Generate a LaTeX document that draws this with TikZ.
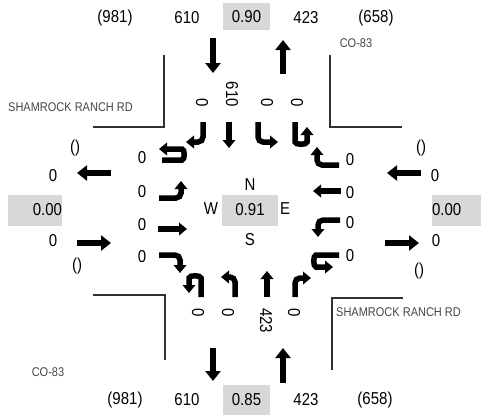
\documentclass[tikz,border=0pt]{standalone}
\usepackage{fontspec}
\usepackage{graphicx}
\setmainfont{Liberation Sans}
\usetikzlibrary{arrows.meta}
\definecolor{boxgray}{RGB}{216,216,216}
\definecolor{roadgray}{RGB}{50,50,50}
\definecolor{labgray}{RGB}{70,70,70}
\newcommand\T[1]{\scalebox{1}[1.15]{#1}}
\begin{document}
\begin{tikzpicture}[x=1pt,y=-1pt,
  txt/.style={font=\fontsize{15}{18}\selectfont, inner sep=0pt},
  small/.style={font=\fontsize{11}{13}\selectfont, text=labgray, inner sep=0pt},
  gbox/.style={fill=boxgray, inner sep=0pt, font=\fontsize{15}{18}\selectfont},
  road/.style={line width=2pt, draw=roadgray},
  bigarrow/.style={line width=6.5pt, -{Triangle[width=15pt,length=10pt]}},
  turn/.style={line width=5.5pt, -{Triangle[width=12.5pt,length=8pt]}, rounded corners=5pt}]
\useasboundingbox (0,0) rectangle (482,416);
% top row
\node[txt] (t1) at (115,18) {\T{(981)}};
\node[txt] (t2) at (187,18) {\T{610}};
\node[gbox, minimum width=47pt, minimum height=27pt] (t3) at (246.5,16.5) {\T{0.90}};
\node[txt] (t4) at (306,18) {\T{423}};
\node[txt] (t5) at (376,18) {\T{(658)}};
% bottom row
\node[txt] (b1) at (125,400) {\T{(981)}};
\node[txt] (b2) at (187,400) {\T{610}};
\node[gbox, minimum width=47pt, minimum height=30pt] (b3) at (246.5,400) {\T{0.85}};
\node[txt] (b4) at (306,400) {\T{423}};
\node[txt] (b5) at (375,400) {\T{(658)}};
% street labels
\node[small] (co1) at (356,43) {\T{CO-83}};
\node[small] (co2) at (48,372) {\T{CO-83}};
\node[small, anchor=west] (sr1) at (8,107) {\T{SHAMROCK RANCH RD}};
\node[small, anchor=west] (sr2) at (336,312) {\T{SHAMROCK RANCH RD}};
% road corners
\draw[road] (164,55) -- (164,127) -- (93,127);
\draw[road] (330,55) -- (330,127) -- (402,127);
\draw[road] (93,295) -- (165,295) -- (165,360);
\draw[road] (403,298) -- (332,298) -- (332,370);
% big arrows
\draw[bigarrow] (213,38) -- (213,73);
\draw[bigarrow] (283,74) -- (283,40);
\draw[bigarrow] (213,348) -- (213,381);
\draw[bigarrow] (283,383) -- (283,348);
\draw[bigarrow] (111,173) -- (77,173);
\draw[bigarrow] (77,243) -- (111,243);
\draw[bigarrow] (421,173) -- (387,173);
\draw[bigarrow] (385,243) -- (419,243);
% west side labels
\node[txt] (wp1) at (75,148) {\T{()}};
\node[txt] (wo1) at (53,176) {\T{0}};
\node[gbox, minimum height=31pt, text width=54pt, align=right] (wb) at (35,210) {\T{0.00}};
\node[txt] (wo2) at (53,241) {\T{0}};
\node[txt] (wp2) at (77,266) {\T{()}};
% east side labels
\node[txt] (ep1) at (421,148) {\T{()}};
\node[txt] (eo1) at (435,176) {\T{0}};
\node[gbox, minimum height=31pt, text width=49pt, align=left] (eb) at (456.5,210) {\T{0.00}};
\node[txt] (eo2) at (436,241) {\T{0}};
\node[txt] (ep2) at (419,271) {\T{()}};
% centre
\node[txt] (cn) at (250,185) {\T{N}};
\node[txt] (cw) at (211,209) {\T{W}};
\node[gbox, minimum width=56pt, minimum height=31pt] (cc) at (250,210) {\T{0.91}};
\node[txt] (ce) at (285,209) {\T{E}};
\node[txt] (cs) at (250,240) {\T{S}};
% west approach
\node[txt] (w1) at (142,158) {\T{0}};
\node[txt] (w2) at (142,192) {\T{0}};
\node[txt] (w3) at (142,225) {\T{0}};
\node[txt] (w4) at (142,257) {\T{0}};
\draw[turn] (162,160) -- (177,160) .. controls (185,160) and (185,149) .. (177,149) -- (159,149);
\draw[turn] (159,198) -- (181,198) -- (181,181);
\draw[turn] (158,229) -- (187,229);
\draw[turn] (159,255) -- (180,255) -- (180,273);
% east approach
\node[txt] (e1) at (350,160) {\T{0}};
\node[txt] (e2) at (350,193) {\T{0}};
\node[txt] (e3) at (350,223) {\T{0}};
\node[txt] (e4) at (350,256) {\T{0}};
\draw[turn] (339,165) -- (317,165) -- (317,147);
\draw[turn] (341,191) -- (313,191);
\draw[turn] (340,220) -- (318,220) -- (318,237);
\draw[turn] (339,255) -- (321,255) .. controls (313,255) and (313,267) .. (321,267) -- (333,267);
% north approach
\node[txt, rotate=-90, anchor=east] (n1) at (202,107) {\T{0}};
\node[txt, rotate=-90, anchor=east] (n2) at (232,107) {\T{610}};
\node[txt, rotate=-90, anchor=east] (n3) at (267,107) {\T{0}};
\node[txt, rotate=-90, anchor=east] (n4) at (297,107) {\T{0}};
\draw[turn] (203,122) -- (203,142) -- (186,142);
\draw[turn] (229,122) -- (229,148);
\draw[turn] (258,122) -- (258,142) -- (278,142);
\draw[turn] (295,122) -- (295,137) .. controls (295,145) and (307,145) .. (307,137) -- (307,127);
% south approach
\node[txt, rotate=-90, anchor=west] (s1) at (198,308) {\T{0}};
\node[txt, rotate=-90, anchor=west] (s2) at (228,308) {\T{0}};
\node[txt, rotate=-90, anchor=west] (s3) at (266,308) {\T{423}};
\node[txt, rotate=-90, anchor=west] (s4) at (294,308) {\T{0}};
\draw[turn] (201,297) -- (201,283) .. controls (201,275) and (189,275) .. (189,283) -- (189,293);
\draw[turn] (235,297) -- (235,277) -- (221,277);
\draw[turn] (267,297) -- (267,271);
\draw[turn] (295,297) -- (295,278) -- (311,278);
\end{tikzpicture}
\end{document}
